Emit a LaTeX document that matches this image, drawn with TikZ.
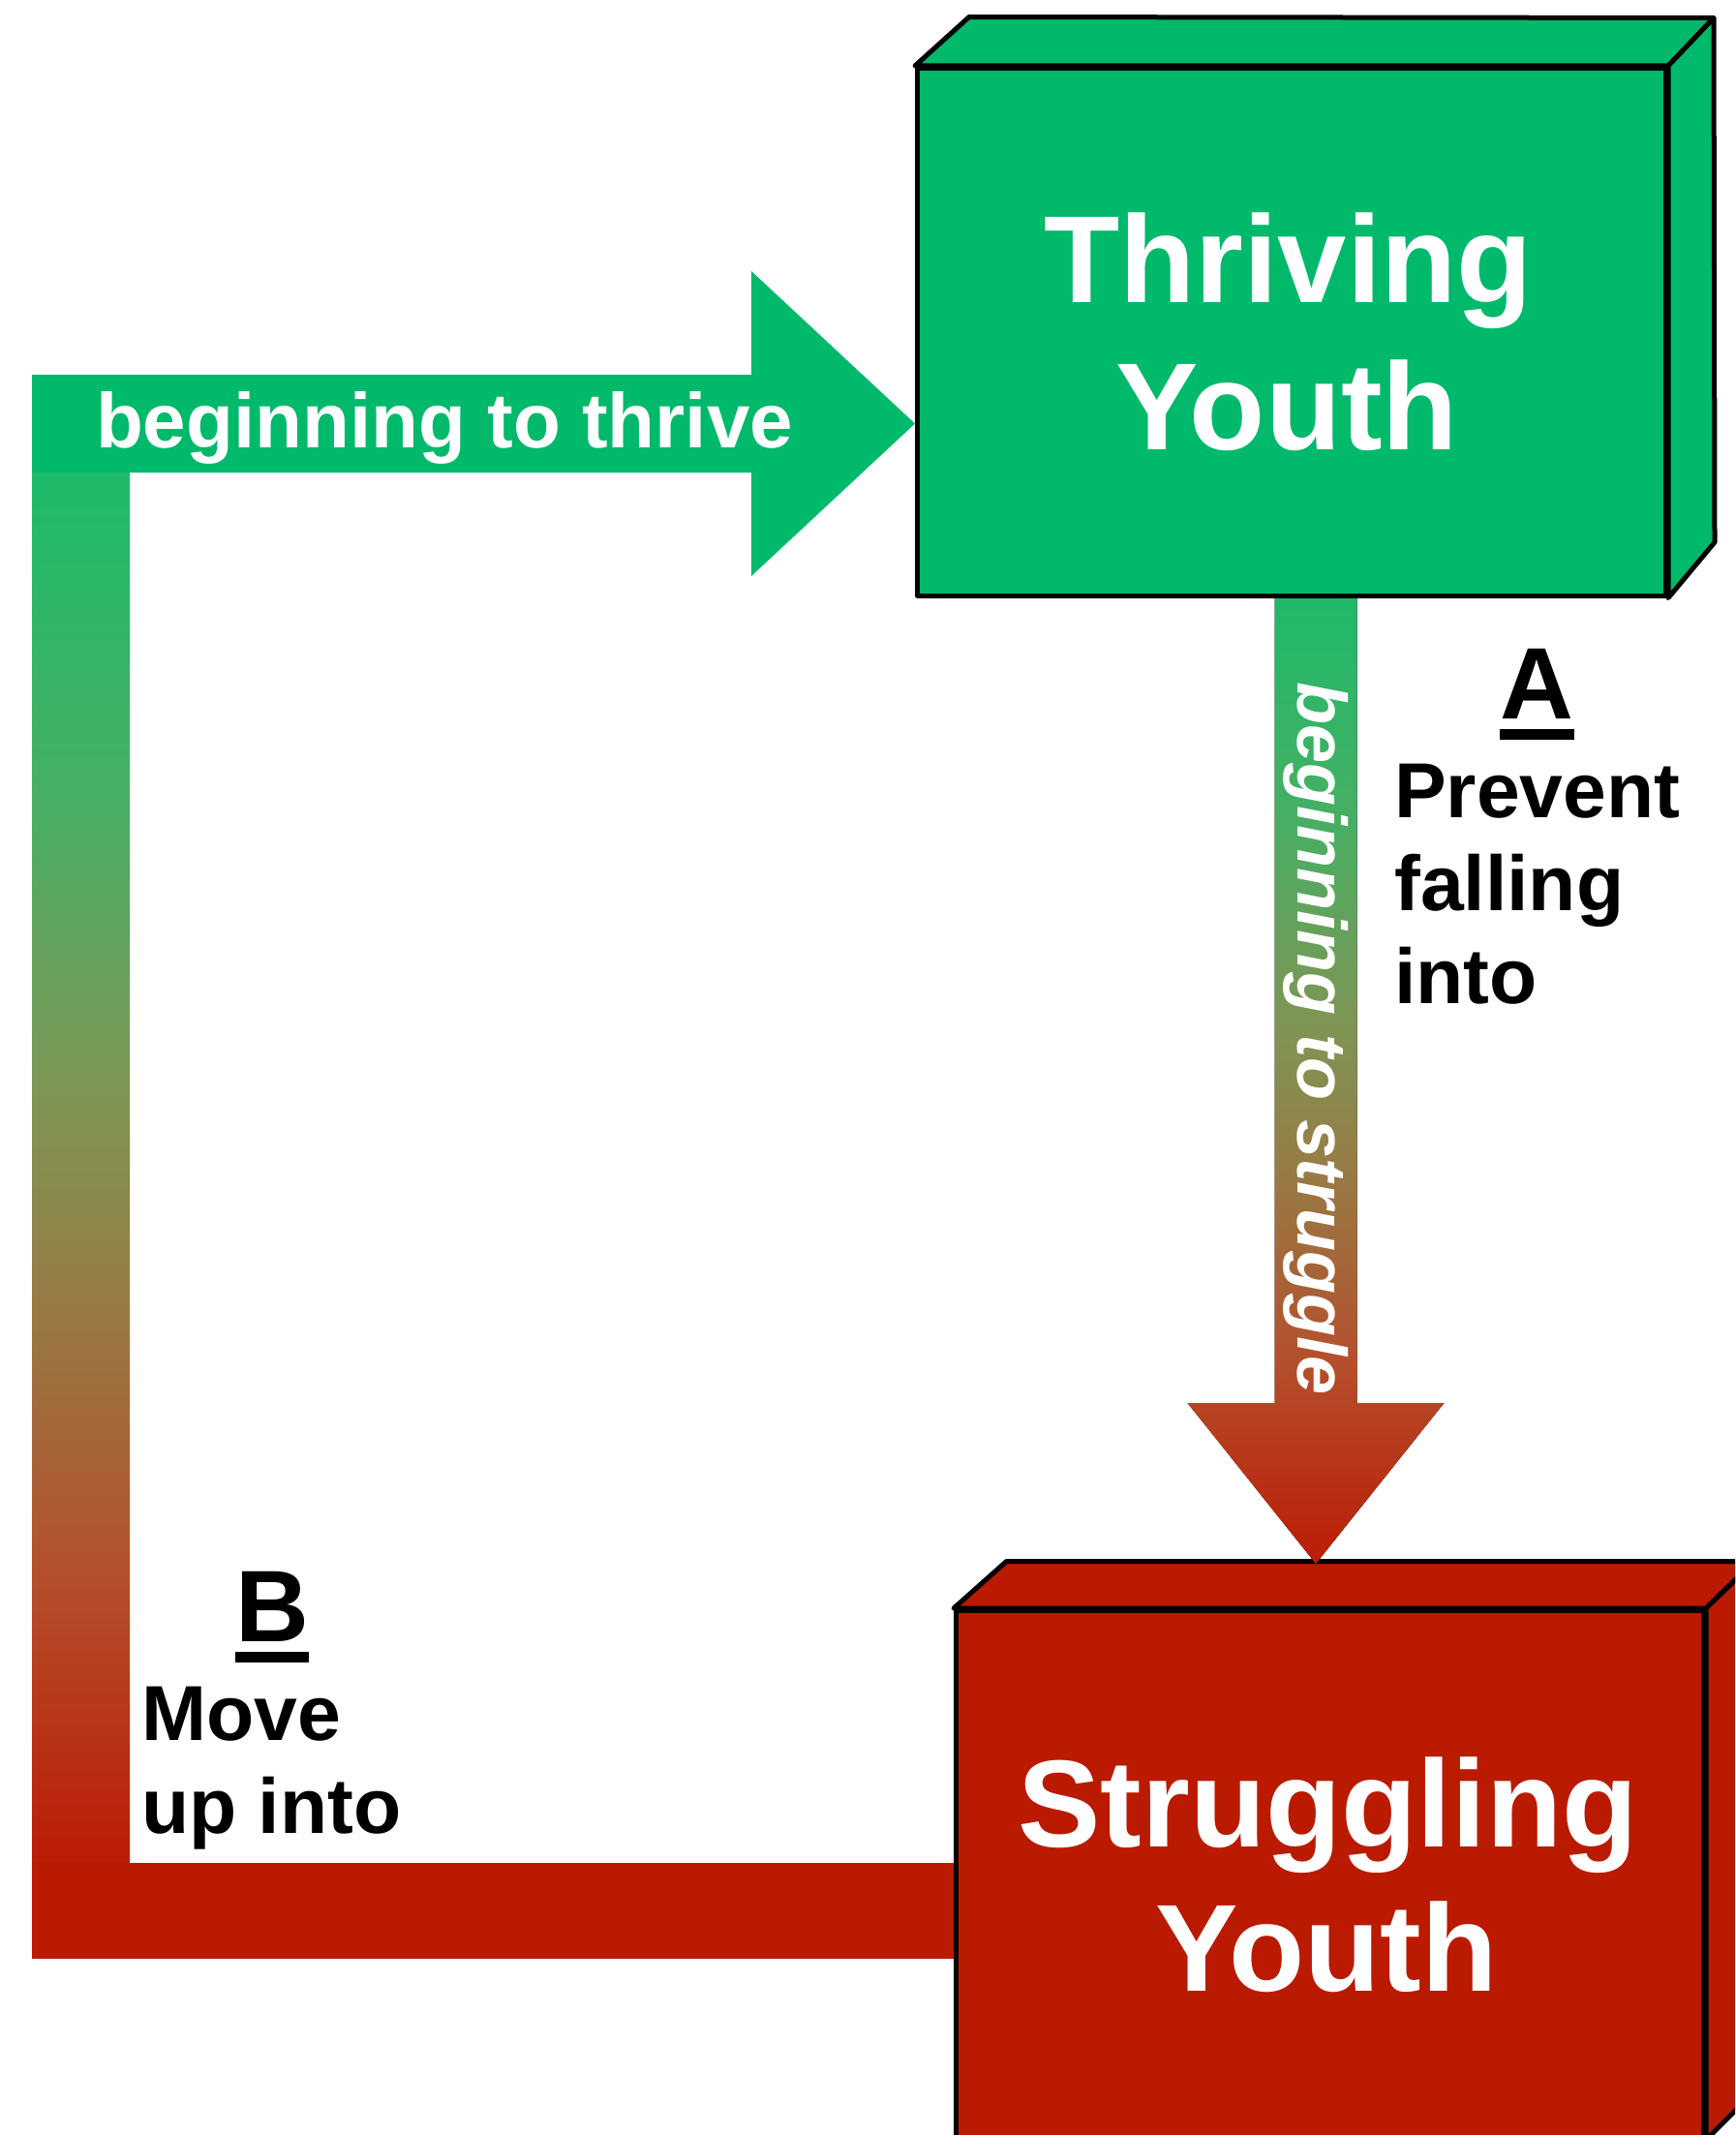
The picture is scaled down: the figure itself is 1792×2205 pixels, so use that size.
\documentclass[tikz,border=0pt]{standalone}
\usepackage{fontspec}
\setmainfont{Liberation Sans}

\definecolor{thrivegreen}{RGB}{0,185,107}
\definecolor{strugglered}{RGB}{186,26,0}
% stops of the green-to-red fade used by both transition arrows
\definecolor{fadeA}{RGB}{29,186,106}
\definecolor{fadeB}{RGB}{70,175,100}
\definecolor{fadeC}{RGB}{125,150,85}
\definecolor{fadeD}{RGB}{150,125,70}
\definecolor{fadeE}{RGB}{180,80,45}
\definecolor{fadeF}{RGB}{187,28,5}
\pgfdeclareverticalshading{greentored}{100bp}{%
  color(0bp)=(fadeF); color(25bp)=(fadeF); color(35.5bp)=(fadeE);
  color(45.5bp)=(fadeD); color(53bp)=(fadeC); color(63.5bp)=(fadeB);
  color(75bp)=(fadeA); color(100bp)=(fadeA)}

\begin{document}
\begin{tikzpicture}[x=1pt,y=-1pt,
  face/.style={draw=black,line width=5pt,line join=round},
  boxtext/.style={text=white,inner sep=0pt,anchor=base,
    font=\bfseries\fontsize{128}{150}\selectfont},
  arrowtext/.style={text=white,inner sep=0pt,
    font=\bfseries\fontsize{80}{96}\selectfont},
  letter/.style={inner sep=0pt,anchor=base,
    font=\bfseries\fontsize{105}{120}\selectfont},
  note/.style={inner sep=0pt,anchor=base west,
    font=\bfseries\fontsize{80.5}{96}\selectfont}]
\useasboundingbox (0,0) rectangle (1792,2205);
\clip (0,0) rectangle (1792,2205);

% ---- loop back from Struggling to Thriving (path B) ----
\coordinate (loopTop) at (33,488);
\coordinate (loopCorner) at (134,1924);
\fill[shading=greentored] (loopTop) rectangle (loopCorner);
\fill[strugglered] (33,1924) rectangle (986,2023);

% ---- "beginning to thrive" block arrow ----
\coordinate (thriveTip) at (945,437.5);
\fill[thrivegreen] (33,387) -- (776,387) -- (776,280) -- (thriveTip)
  -- (776,595) -- (776,488) -- (33,488) -- cycle;
\node[arrowtext,anchor=base] (thriveLbl) at (459,462.5) {beginning to thrive};

% ---- Struggling Youth box ----
\node[face,fill=strugglered,anchor=north west,minimum width=772pt,
  minimum height=544pt,inner sep=0pt] (sbox) at (985,1661) {};
\filldraw[face,fill=strugglered] (sbox.north west) -- (1039.5,1612.5)
  -- (1812,1612.5) -- (sbox.north east) -- cycle;
\filldraw[face,fill=strugglered] (sbox.north east) -- (1812,1612.5)
  -- (1812,2160) -- (sbox.south east) -- cycle;
\node[boxtext] (s1) at (1371.5,1907) {Struggling};
\node[boxtext] (s2) at (1370,2056) {Youth};

% ---- "beginning to struggle" block arrow (path A) ----
\coordinate (struggleTip) at (1359,1615);
\fill[shading=greentored] (1316.7,606) -- (1401.5,606) -- (1401.5,1449)
  -- (1491.5,1449) -- (struggleTip) -- (1226.5,1449) -- (1316.7,1449) -- cycle;
\node[text=white,inner sep=0pt,rotate=-90,anchor=base west,
  font=\bfseries\itshape\fontsize{72}{86}\selectfont] (struggleLbl)
  at (1340,704.5) {beginning to struggle};

% ---- Thriving Youth box ----
\node[face,fill=thrivegreen,anchor=north west,minimum width=773pt,
  minimum height=544.5pt,inner sep=0pt] (tbox) at (945,68) {};
\filldraw[face,fill=thrivegreen] (tbox.north west) -- (1001,17.5)
  -- (1770,18.5) -- (tbox.north east) -- cycle;
\filldraw[face,fill=thrivegreen] (tbox.north east) -- (1770,18.5)
  -- (1771,560) -- (tbox.south east) -- cycle;
\node[boxtext] (t1) at (1330.5,312) {Thriving};
\node[boxtext] (t2) at (1329.5,464) {Youth};

% ---- annotation A ----
\node[letter] (la) at (1587.5,742.7) {A};
\fill ([yshift=-10.7pt]la.base west) rectangle ([yshift=-21.7pt]la.base east);
\node[note] (a1) at (1440,844.3) {Prevent};
\node[note] (a2) at (1440,940.7) {falling};
\node[note] (a3) at (1440,1036.5) {into};

% ---- annotation B ----
\node[letter] (lb) at (281,1695) {B};
\fill ([yshift=-10.7pt]lb.base west) rectangle ([yshift=-21.7pt]lb.base east);
\node[note] (b1) at (146,1797.7) {Move};
\node[note] (b2) at (146,1893.3) {up into};
\end{tikzpicture}
\end{document}
